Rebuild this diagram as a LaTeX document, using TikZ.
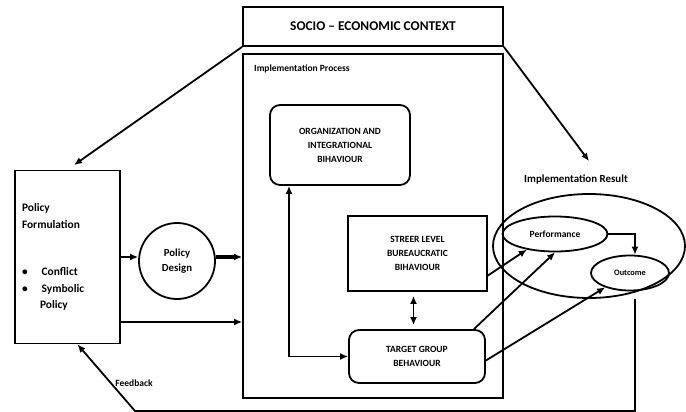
\documentclass[tikz,border=0pt]{standalone}
\usepackage{fontspec}
\setmainfont{Carlito}
\usetikzlibrary{arrows.meta,shapes.geometric}

\begin{document}
\begin{tikzpicture}[x=1pt,y=-1pt,line width=1.8pt,
  box/.style={draw,shape=rectangle,align=center,font=\bfseries\fontsize{9.5}{14}\selectfont},
  roundbox/.style={box,rounded corners=10pt},
  oval/.style={draw,ellipse,inner sep=0pt,font=\bfseries\fontsize{9.5}{11}\selectfont},
  lbl/.style={font=\bfseries\fontsize{9.5}{11}\selectfont},
  arr/.style={-{Latex[length=8pt,width=7pt]}},
  twoarr/.style={{Latex[length=8pt,width=7pt]}-{Latex[length=8pt,width=7pt]}}]
  \useasboundingbox (0,0) rectangle (686,412);

  \node[box,minimum width=260pt,minimum height=39pt,font=\bfseries\fontsize{13.4}{15}\selectfont] (socio) at (373,26.5) {SOCIO -- ECONOMIC CONTEXT};
  \node[box,minimum width=260pt,minimum height=344pt] (impl) at (373,226) {};
  \node[lbl,anchor=west] (impllabel) at (250,69) {Implementation Process};

  \node[roundbox,minimum width=140pt,minimum height=80pt] (org) at (340,145) {ORGANIZATION AND\\INTEGRATIONAL\\BIHAVIOUR};
  \node[box,minimum width=139pt,minimum height=75pt] (streer) at (417.5,253.5) {STREER LEVEL\\BUREAUCRATIC\\BIHAVIOUR};
  \node[roundbox,minimum width=136pt,minimum height=53pt] (target) at (417,356.5) {TARGET GROUP\\BEHAVIOUR};

  \node[box,align=left,text width=91pt,inner xsep=7pt,minimum height=173pt,font=\bfseries\fontsize{11.4}{16.5}\selectfont] (pf) at (67.5,257)
    {Policy\\Formulation\\[31pt]\textbullet\hspace{14pt}Conflict\\\textbullet\hspace{14pt}Symbolic\\\hspace{18pt}Policy};
  \node[draw,circle,minimum size=76pt,align=center,font=\bfseries\fontsize{10.8}{15}\selectfont] (pd) at (177,261) {Policy\\Design};

  \node[lbl,font=\bfseries\fontsize{10.9}{12}\selectfont] (reslabel) at (576,180) {Implementation Result};
  \node[oval,minimum width=192pt,minimum height=104pt] (result) at (589,246) {};
  \node[oval,minimum width=105pt,minimum height=35pt] (perf) at (555,234) {Performance};
  \node[oval,minimum width=78pt,minimum height=35pt,font=\bfseries\fontsize{8.3}{10}\selectfont] (outcome) at (630,273) {Outcome};
  \coordinate (resarrow) at (589,161);
  \coordinate (fbcorner) at (135,411);
  \node[lbl] (fblabel) at (134,383) {Feedback};

  \draw[arr,shorten >=8pt] (socio.south west) -- (pf.north);
  \draw[arr] (socio.south east) -- (resarrow);

  \draw[arr] (pf.east) -- (pf.east -| pd.west);
  \draw[arr,line width=3.4pt] (pd.east |- pf.east) -- (pf.east -| impl.west);
  \draw[arr] ([yshift=-65pt]pf.east) -- ([yshift=-65pt]pf.east -| impl.west);

  \draw[twoarr] ([xshift=-51pt]org.south) |- (target.west);
  \draw[twoarr,shorten <=4pt,shorten >=4pt] ([xshift=-4pt]streer.south) -- ([xshift=-4pt]streer.south |- target.north);

  \draw[arr] ([yshift=-22pt]streer.east) -- (perf.209);
  \draw[arr] ([xshift=-12pt]target.north east) -- (perf.south);
  \draw[arr] ([yshift=-4pt]target.east) -- (outcome.210);
  \draw[arr] (perf.east) -| ([xshift=5pt]outcome.north);

  \draw[arr] ([xshift=46pt]result.south) |- (fbcorner) -- ([xshift=10pt]pf.south);

\end{tikzpicture}
\end{document}
